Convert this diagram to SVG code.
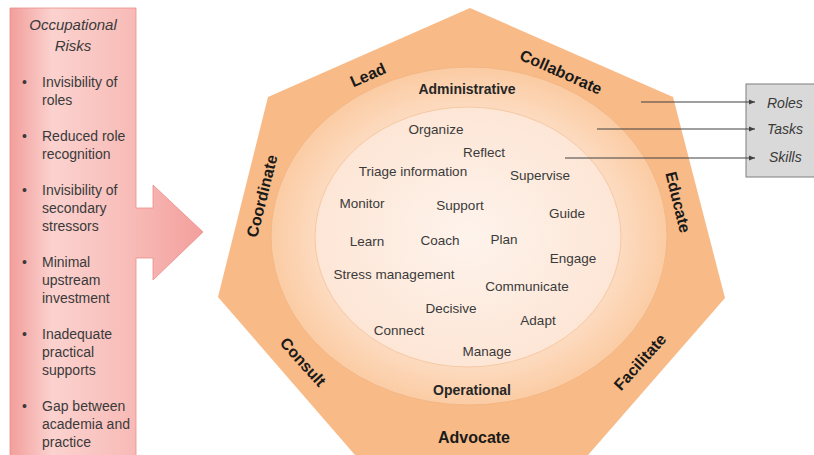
<svg xmlns="http://www.w3.org/2000/svg" width="814" height="455" viewBox="0 0 814 455">
  <defs>
    <linearGradient id="riskFill" x1="10" y1="0" x2="203" y2="0" gradientUnits="userSpaceOnUse">
      <stop offset="0" stop-color="#f29e9b"/>
      <stop offset="0.22" stop-color="#fbd2cf"/>
      <stop offset="0.6" stop-color="#f8bdb9"/>
      <stop offset="1" stop-color="#f39f9c"/>
    </linearGradient>
    <radialGradient id="ringFill" cx="469" cy="237" r="198" gradientUnits="userSpaceOnUse" gradientTransform="translate(469 237) scale(1 0.85) translate(-469 -237)">
      <stop offset="0.75" stop-color="#fddcc2"/>
      <stop offset="1" stop-color="#fbcca4"/>
    </radialGradient>
    <radialGradient id="coreFill" cx="469" cy="237" r="153" gradientUnits="userSpaceOnUse" gradientTransform="translate(469 237) scale(1 0.85) translate(-469 -237)">
      <stop offset="0" stop-color="#fef3ec"/>
      <stop offset="1" stop-color="#fde6d6"/>
    </radialGradient>
    <marker id="tip" viewBox="0 0 10 10" refX="10" refY="5" markerWidth="6" markerHeight="6" markerUnits="userSpaceOnUse" orient="auto">
      <path d="M0,1 L10,5 L0,9 Z" fill="#404040"/>
    </marker>
  </defs>
  <style>
    .risk { font-family: "Liberation Sans", Arial, sans-serif; font-size: 14px; fill: #3a3a3a; }
    .riskTitle { font-family: "Liberation Sans", Arial, sans-serif; font-size: 15px; font-style: italic; fill: #3a3a3a; text-anchor: middle; }
    .role { font-family: "Liberation Sans", Arial, sans-serif; font-size: 16px; font-weight: bold; fill: #1a1a1a; text-anchor: middle; }
    .level { font-family: "Liberation Sans", Arial, sans-serif; font-size: 14px; font-weight: bold; fill: #262626; text-anchor: middle; }
    .skill { font-family: "Liberation Sans", Arial, sans-serif; font-size: 13.5px; fill: #3a3a3a; text-anchor: middle; }
    .key { font-family: "Liberation Sans", Arial, sans-serif; font-size: 14px; font-style: italic; fill: #3a3a3a; }
    .link { stroke: #404040; stroke-width: 1; fill: none; marker-end: url(#tip); }
  </style>

  <!-- occupational risks panel with its arrow -->
  <g id="occupational-risks">
    <path d="M10,8 H136 V208 H153 V185 L203,232 L153,280 V258 H136 V470 H10 Z" fill="url(#riskFill)" stroke="#ec8d8a" stroke-width="0.8"/>
    <text class="riskTitle" x="73" y="30">Occupational</text>
    <text class="riskTitle" x="73" y="51">Risks</text>
    <g class="risk">
      <text x="22" y="87">•</text>
      <text x="42" y="87">Invisibility of</text>
      <text x="42" y="105">roles</text>
      <text x="22" y="141">•</text>
      <text x="42" y="141">Reduced role</text>
      <text x="42" y="159">recognition</text>
      <text x="22" y="195">•</text>
      <text x="42" y="195">Invisibility of</text>
      <text x="42" y="213">secondary</text>
      <text x="42" y="231">stressors</text>
      <text x="22" y="267">•</text>
      <text x="42" y="267">Minimal</text>
      <text x="42" y="285">upstream</text>
      <text x="42" y="303">investment</text>
      <text x="22" y="339">•</text>
      <text x="42" y="339">Inadequate</text>
      <text x="42" y="357">practical</text>
      <text x="42" y="375">supports</text>
      <text x="22" y="411">•</text>
      <text x="42" y="411">Gap between</text>
      <text x="42" y="429">academia and</text>
      <text x="42" y="447">practice</text>
    </g>
  </g>

  <!-- outer heptagon: roles -->
  <g id="roles-heptagon">
    <polygon points="470,8 673,97 725,298 575,470 368,470 218,297 268,97" fill="#f8ba86"/>
    <text class="role" transform="translate(368 75) rotate(-24)" y="5.5">Lead</text>
    <text class="role" transform="translate(561 72) rotate(24)" y="5.5">Collaborate</text>
    <text class="role" transform="translate(262 196) rotate(-76)" y="5.5">Coordinate</text>
    <text class="role" transform="translate(678 202) rotate(76)" y="5.5">Educate</text>
    <text class="role" transform="translate(303 362) rotate(48)" y="5.5">Consult</text>
    <text class="role" transform="translate(640 362) rotate(-48)" y="5.5">Facilitate</text>
    <text class="role" x="474" y="443">Advocate</text>
  </g>

  <!-- middle ring: tasks -->
  <g id="tasks-ring">
    <ellipse cx="469" cy="236" rx="198" ry="169" fill="url(#ringFill)" stroke="#f3b785" stroke-width="1"/>
    <text class="level" x="467" y="94">Administrative</text>
    <text class="level" x="472" y="395">Operational</text>
  </g>

  <!-- inner circle: skills -->
  <g id="skills-core">
    <ellipse cx="468" cy="237" rx="153" ry="130" fill="url(#coreFill)" stroke="#f5c9a4" stroke-width="1"/>
    <text class="skill" x="436" y="134">Organize</text>
    <text class="skill" x="484" y="157">Reflect</text>
    <text class="skill" x="413" y="176">Triage information</text>
    <text class="skill" x="540" y="180">Supervise</text>
    <text class="skill" x="362" y="208">Monitor</text>
    <text class="skill" x="460" y="210">Support</text>
    <text class="skill" x="567" y="218">Guide</text>
    <text class="skill" x="367" y="246">Learn</text>
    <text class="skill" x="440" y="245">Coach</text>
    <text class="skill" x="504" y="244">Plan</text>
    <text class="skill" x="573" y="263">Engage</text>
    <text class="skill" x="394" y="279">Stress management</text>
    <text class="skill" x="527" y="291">Communicate</text>
    <text class="skill" x="451" y="313">Decisive</text>
    <text class="skill" x="538" y="325">Adapt</text>
    <text class="skill" x="399" y="335">Connect</text>
    <text class="skill" x="487" y="356">Manage</text>
  </g>

  <!-- legend box -->
  <g id="legend">
    <rect x="746" y="84" width="74" height="93" fill="#d9d9d9" stroke="#7f7f7f" stroke-width="1"/>
    <text class="key" x="767" y="108">Roles</text>
    <text class="key" x="767" y="134">Tasks</text>
    <text class="key" x="769" y="162">Skills</text>
  </g>

  <!-- pointers from each layer to the legend -->
  <g id="connectors">
    <line class="link" x1="641" y1="102" x2="755" y2="102"/>
    <line class="link" x1="597" y1="129" x2="755" y2="129"/>
    <line class="link" x1="565" y1="158" x2="755" y2="158"/>
  </g>
</svg>
